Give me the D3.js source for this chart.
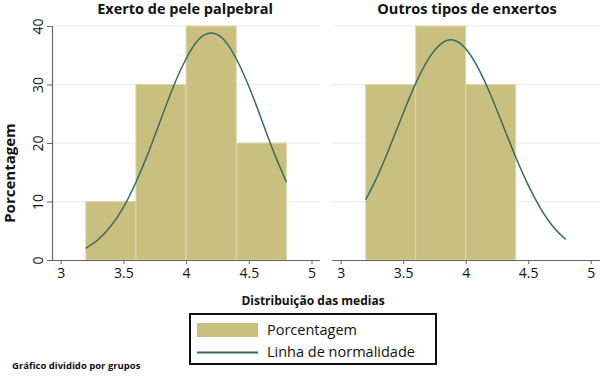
<!DOCTYPE html>
<html>
<head>
<meta charset="utf-8">
<script src="https://cdn.jsdelivr.net/npm/d3@7"></script>
<style>
  body { margin: 0; background: #fff; }
  text { font-family: 'Open Sans', sans-serif; fill: #111; }
</style>
</head>
<body>
<svg id="chart" width="600" height="381"></svg>
<script>
// bins (start of each 0.4 wide bin) and percentages per group
let leftBins = [3.2, 3.6, 4.0, 4.4]
let leftPct = [10, 30, 40, 20]
let rightBins = [3.2, 3.6, 4.0]
let rightPct = [30, 40, 30]
let binWidth = 0.4

// normality line
let curveX = [3.2, 3.3, 3.4, 3.5, 3.6, 3.7, 3.8, 3.9, 4.0, 4.1, 4.2, 4.3, 4.4, 4.5, 4.6, 4.7, 4.8]
let leftCurve = [2.0, 3.5, 5.8, 9.0, 13.3, 18.4, 24.1, 29.7, 34.4, 37.7, 38.8, 37.7, 34.4, 29.7, 24.1, 18.4, 13.3]
let rightCurve = [10.3, 14.6, 19.7, 25.1, 30.2, 34.3, 36.9, 37.6, 36.1, 32.8, 28.2, 22.9, 17.6, 12.8, 8.8, 5.7, 3.5]

let xTicks = [3, 3.5, 4, 4.5, 5]
let yTicks = [0, 10, 20, 30, 40]
let titles = ['Exerto de pele palpebral', 'Outros tipos de enxertos']

function main() {
    let svg = d3.select('#chart')
    let barColor = '#c9c07f',
        lineColor = '#356d60',
        axisColor = '#666'

    let yScale = d3.scaleLinear().domain([0, 40]).range([260, 26])

    let panels = [
        {title: titles[0], bins: leftBins, pct: leftPct, curve: leftCurve, range: [60.7, 311.5], ext: [53, 320], cx: 185},
        {title: titles[1], bins: rightBins, pct: rightPct, curve: rightCurve, range: [340.7, 590.7], ext: [332, 600], cx: 467}
    ]

    panels.forEach((p, i) => {
        let xScale = d3.scaleLinear().domain([3, 5]).range(p.range)
        let g = svg.append('g')

        // grid
        g.selectAll('.grid')
            .data(yTicks.slice(1))
            .enter()
            .append('line')
            .attr('x1', p.ext[0])
            .attr('x2', p.ext[1])
            .attr('y1', d => yScale(d))
            .attr('y2', d => yScale(d))
            .attr('stroke', '#ececec')
            .attr('stroke-width', 1)

        // bars
        g.selectAll('rect')
            .data(p.bins.map((b, j) => ({start: b, pct: p.pct[j]})))
            .enter()
            .append('rect')
            .attr('x', d => xScale(d.start))
            .attr('width', d => xScale(d.start + binWidth) - xScale(d.start))
            .attr('y', d => yScale(d.pct))
            .attr('height', d => yScale(0) - yScale(d.pct))
            .attr('fill', barColor)
            .attr('stroke', '#ddd7ad')
            .attr('stroke-width', 1)

        // normality line
        let line = d3.line()
            .x(d => xScale(d[0]))
            .y(d => yScale(d[1]))
            .curve(d3.curveNatural)
        g.append('path')
            .datum(curveX.map((x, j) => [x, p.curve[j]]))
            .attr('d', line)
            .attr('fill', 'none')
            .attr('stroke', lineColor)
            .attr('stroke-width', 1.5)

        // x axis
        g.append('line')
            .attr('x1', p.ext[0])
            .attr('x2', p.ext[1])
            .attr('y1', 260.5)
            .attr('y2', 260.5)
            .attr('stroke', axisColor)
            .attr('stroke-width', 1.2)
        let xAxis = g.append('g')
            .attr('transform', 'translate(0, 260)')
            .call(d3.axisBottom(xScale).tickValues(xTicks).tickFormat(d3.format('')).tickSize(4).tickPadding(4))
        xAxis.select('.domain').remove()
        xAxis.selectAll('line').attr('stroke', axisColor)
        xAxis.selectAll('text')
            .attr('font-size', 14)
            .attr('font-family', "'Open Sans', sans-serif")
            .attr('fill', '#111')

        // title
        svg.append('text')
            .attr('x', p.cx)
            .attr('y', 14)
            .attr('text-anchor', 'middle')
            .attr('font-size', 14.5)
            .attr('font-weight', 'bold')
            .text(p.title)

        if (i === 0) {
            svg.append('line')
                .attr('x1', 52.5).attr('x2', 52.5)
                .attr('y1', yScale(40)).attr('y2', 261)
                .attr('stroke', axisColor)
                .attr('stroke-width', 1.2)
            let yAxis = svg.append('g')
                .attr('transform', 'translate(52, 0)')
                .call(d3.axisLeft(yScale).tickValues(yTicks).tickSize(5))
            yAxis.select('.domain').remove()
            yAxis.selectAll('line').attr('stroke', axisColor)
            yAxis.selectAll('text')
                .attr('font-size', 14)
                .attr('font-family', "'Open Sans', sans-serif")
                .attr('fill', '#111')
                .attr('text-anchor', 'middle')
                .attr('transform', 'rotate(-90)')
                .attr('x', 0)
                .attr('y', -9)
                .attr('dy', 0)
        }
    })

    // y title
    svg.append('text')
        .attr('transform', 'translate(15, 173) rotate(-90)')
        .attr('text-anchor', 'middle')
        .attr('font-size', 15)
        .attr('font-weight', 'bold')
        .text('Porcentagem')

    // x title
    svg.append('text')
        .attr('x', 313)
        .attr('y', 305)
        .attr('text-anchor', 'middle')
        .attr('font-size', 12)
        .attr('font-weight', 'bold')
        .text('Distribuição das medias')

    // legend
    let legend = svg.append('g')
    legend.append('rect')
        .attr('x', 190).attr('y', 314)
        .attr('width', 246).attr('height', 50)
        .attr('fill', '#fff')
        .attr('stroke', '#111')
        .attr('stroke-width', 2)
    legend.append('rect')
        .attr('x', 197).attr('y', 323)
        .attr('width', 61).attr('height', 14)
        .attr('fill', barColor)
    legend.append('line')
        .attr('x1', 197).attr('x2', 258)
        .attr('y1', 352.5).attr('y2', 352.5)
        .attr('stroke', lineColor)
        .attr('stroke-width', 2)
    legend.append('text')
        .attr('x', 267).attr('y', 335)
        .attr('font-size', 14.5)
        .text('Porcentagem')
    legend.append('text')
        .attr('x', 267).attr('y', 357)
        .attr('font-size', 14.5)
        .text('Linha de normalidade')

    // note
    svg.append('text')
        .attr('x', 12)
        .attr('y', 369)
        .attr('font-size', 9.5)
        .attr('font-weight', 'bold')
        .text('Gráfico dividido por grupos')
}

main()
</script>
</body>
</html>
